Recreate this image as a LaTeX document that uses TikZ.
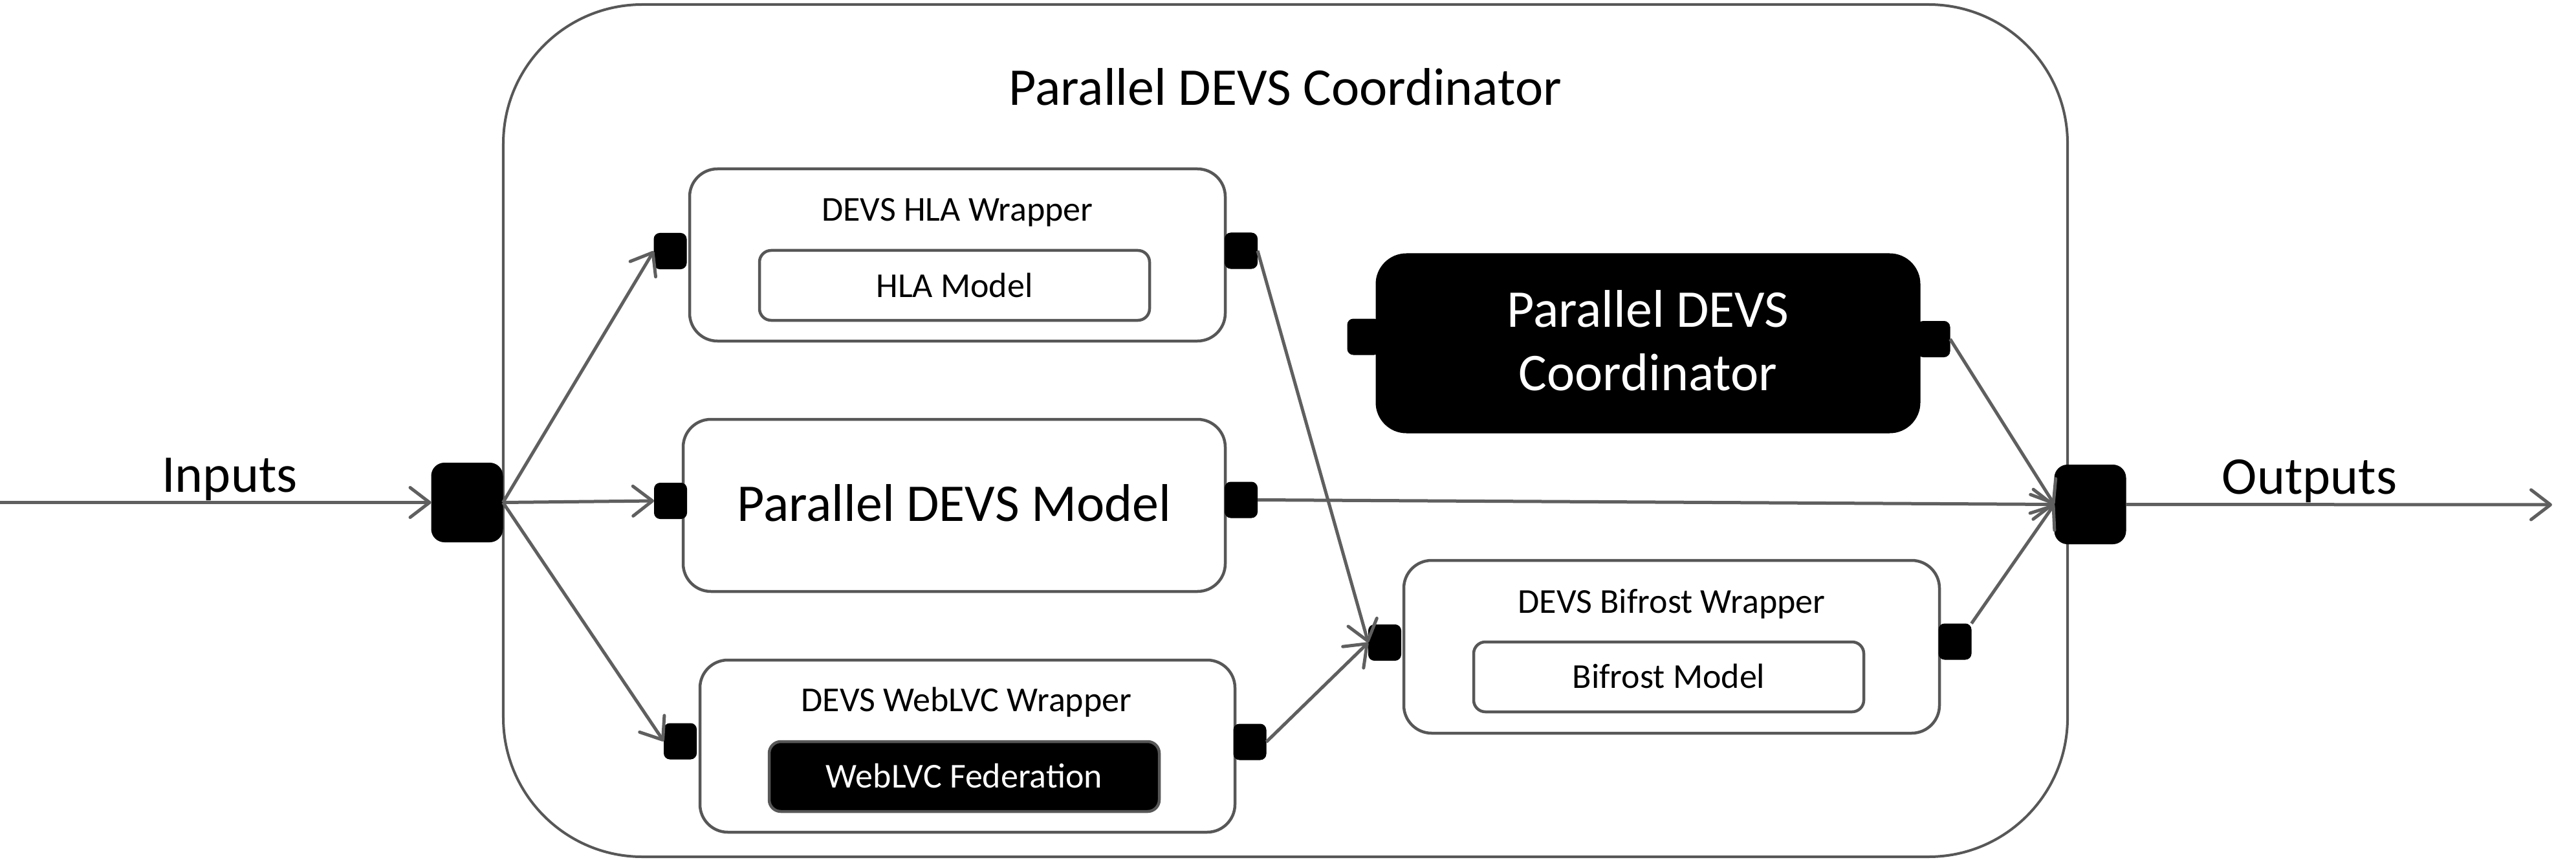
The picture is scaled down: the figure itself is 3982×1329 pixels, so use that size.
\documentclass[tikz,border=0pt]{standalone}
\usepackage{fontspec}
\setmainfont{Carlito}
\usetikzlibrary{arrows.meta}
\definecolor{linegray}{HTML}{5F5F5F}
\definecolor{boxgray}{HTML}{575757}
\tikzset{
  box/.style={draw=boxgray, line width=4.5bp, rectangle, rounded corners=#1, inner sep=0pt, fill=white},
  blackbox/.style={draw=black, fill=black, line width=1bp, rectangle, rounded corners=#1, inner sep=0pt},
  port/.style={fill=black, draw=black, line width=1bp, rectangle, rounded corners=9bp, inner sep=0pt, minimum width=50bp, minimum height=55bp},
  bigport/.style={fill=black, draw=black, line width=1bp, rectangle, rounded corners=20bp, inner sep=0pt, minimum width=110bp, minimum height=122bp},
  conn/.style={draw=linegray, line width=5bp, -{Straight Barb[length=30bp,width=46bp,round]}},
  lbl/.style={anchor=base, inner sep=0pt},
  bigfont/.style={font=\fontsize{82bp}{98bp}\selectfont},
  titlefont/.style={font=\fontsize{82bp}{95bp}\selectfont},
  smallfont/.style={font=\fontsize{54bp}{66bp}\selectfont},
}
\begin{document}
\begin{tikzpicture}[x=1bp,y=-1bp]
\useasboundingbox (0,0) rectangle (3982,1329);
% outer coordinator
\node[box=215bp, draw=boxgray, line width=4bp, minimum width=2418bp, minimum height=1317bp] (outer) at (1987,665.5) {};
\node[lbl, titlefont] (title) at (1987,163) {Parallel DEVS Coordinator};

% HLA wrapper
\node[box=43bp, minimum width=828bp, minimum height=266bp] (hla) at (1480,394) {};
\node[lbl, smallfont] (hlat) at (1480,342) {DEVS HLA Wrapper};
\node[box=18bp, minimum width=603bp, minimum height=108bp] (hlam) at (1475.5,441) {};
\node[lbl, smallfont] (hlamt) at (1475.5,459) {HLA Model};

% Parallel DEVS Model
\node[box=43bp, minimum width=838bp, minimum height=266bp] (pdm) at (1475,781) {};
\node[lbl, bigfont] (pdmt) at (1475,805) {Parallel DEVS Model};

% WebLVC wrapper
\node[box=43bp, minimum width=827bp, minimum height=266bp] (web) at (1495.5,1153) {};
\node[lbl, smallfont] (webt) at (1494,1099) {DEVS WebLVC Wrapper};
\node[box=18bp, fill=black, minimum width=603bp, minimum height=108bp] (webm) at (1490.5,1200) {};
\node[lbl, smallfont, text=white] (webmt) at (1490.5,1217) {WebLVC Federation};

% Coordinator (black)
\node[blackbox=47bp, minimum width=841bp, minimum height=277bp] (coord) at (2547.5,530.5) {};
\node[lbl, bigfont, text=white] (coordt1) at (2547.5,505) {Parallel DEVS};
\node[lbl, bigfont, text=white] (coordt2) at (2547.5,603) {Coordinator};

% Bifrost wrapper
\node[box=43bp, minimum width=828bp, minimum height=267bp] (bif) at (2584,999.5) {};
\node[lbl, smallfont] (bift) at (2584,947) {DEVS Bifrost Wrapper};
\node[box=18bp, minimum width=603bp, minimum height=108bp] (bifm) at (2579.5,1046) {};
\node[lbl, smallfont] (bifmt) at (2579.5,1063) {Bifrost Model};

% ports
\node[port] (hlaL) at (1036,388) {};
\node[port] (hlaR) at (1918.5,387.5) {};
\node[port] (pdmL) at (1036.5,774) {};
\node[port] (pdmR) at (1918.5,772.5) {};
\node[port] (webL) at (1051.5,1145.5) {};
\node[port] (webR) at (1932,1146.5) {};
\node[port] (coordL) at (2108,520.5) {};
\node[port] (coordR) at (2989,524) {};
\node[port] (bifL) at (2140.5,993) {};
\node[port] (bifR) at (3022,991.5) {};
\node[bigport] (inport) at (722,776.5) {};
\node[bigport] (outport) at (3231,779.5) {};

% labels
\node[lbl, titlefont] (inlbl) at (355,760) {Inputs};
\node[lbl, titlefont] (outlbl) at (3570,763) {Outputs};

% connectors
\coordinate (instart) at (0,776.5);
\coordinate (outend) at (3945,780);
\draw[conn] (instart) -- (inport.west);
\draw[conn] (inport.east) -- (hlaL.west);
\draw[conn] (inport.east) -- (pdmL.west);
\draw[conn] (inport.east) -- (webL.west);
\draw[conn] (hlaR.east) -- (bifL.west);
\draw[conn] (webR.east) -- (bifL.west);
\draw[conn] (pdmR.east) -- (outport.west);
\draw[conn] (coordR.east) -- (outport.west);
\draw[conn] (bifR.north east) -- (outport.west);
\draw[conn] (outport.east) -- (outend);
\end{tikzpicture}
\end{document}
